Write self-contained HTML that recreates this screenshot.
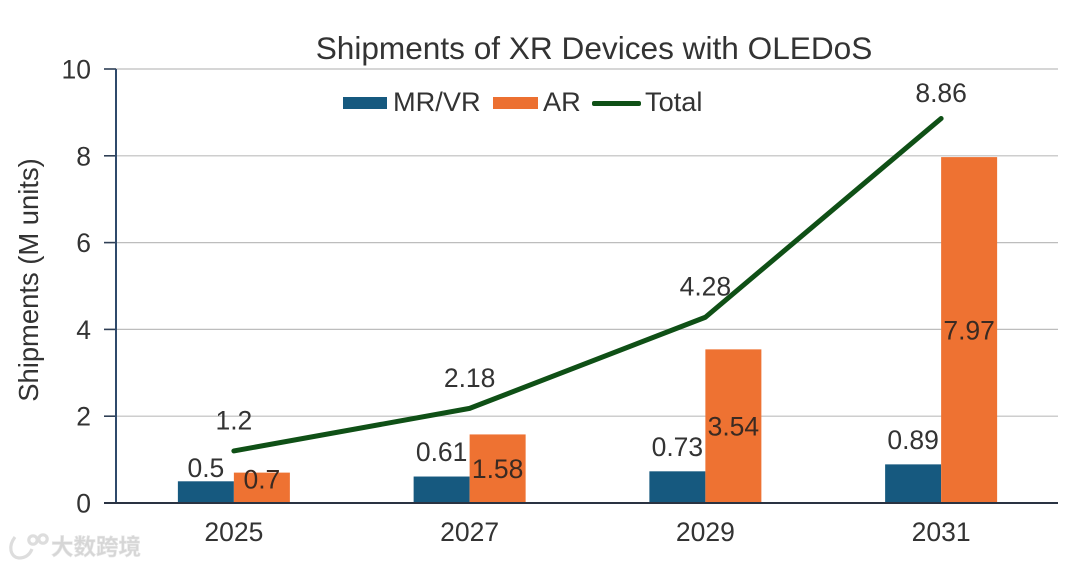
<!DOCTYPE html>
<html lang="en">
<head>
<meta charset="utf-8">
<title>Shipments of XR Devices with OLEDoS</title>
<style>
html,body{margin:0;padding:0;background:#fff;}
#chart{display:block;width:1080px;height:567px;font-family:"Liberation Sans",Arial,sans-serif;}
</style>
</head>
<body>
<svg id="chart" xmlns="http://www.w3.org/2000/svg" width="1080" height="567" viewBox="0 0 1080 567">
  <rect width="1080" height="567" fill="#ffffff"/>
  <g id="grid"></g>
  <g id="bars"></g>
  <g id="axes"></g>
  <g id="line"></g>
  <g id="labels"></g>
  <text x="594" y="59" text-anchor="middle" font-size="31.6" fill="#333">Shipments of XR Devices with OLEDoS</text>
  <text transform="translate(38,280) rotate(-90)" text-anchor="middle" font-size="27.4" fill="#333">Shipments (M units)</text>
  <g>
    <g>
      <rect x="343" y="97" width="44" height="12" fill="#16597f"/>
      <text x="393" y="111" font-size="27.2" fill="#333">MR/VR</text>
    </g>
    <g>
      <rect x="493" y="97" width="45" height="12" fill="#ec7031"/>
      <text x="543" y="111" font-size="27.2" fill="#333">AR</text>
    </g>
    <g>
      <rect x="592" y="101" width="49" height="5" rx="2" fill="#0f5016"/>
      <text x="645" y="111" font-size="27.2" fill="#333">Total</text>
    </g>
  </g>
  <g opacity="0.95">
    <g fill="none" stroke="#dcdcdc" stroke-width="3.2">
      <path d="M15 537 C8 546 10 557 19 558 C26 558 30 554 32 549"/>
      <circle cx="33" cy="540" r="4.2"/>
      <circle cx="43" cy="539" r="4.2"/>
    </g>
    <text x="51" y="555" font-size="22.5" font-family="'Liberation Sans','Noto Sans CJK SC',sans-serif" font-weight="700" fill="#d4d4d4" stroke="#e6e6e6" stroke-width="0.6">大数跨境</text>
  </g>
</svg>
<script>
const categories = ["2025", "2027", "2029", "2031"];
const mrVr = [0.5, 0.61, 0.73, 0.89];
const ar = [0.7, 1.58, 3.54, 7.97];
const total = [1.2, 2.18, 4.28, 8.86];
const yTicks = [0, 2, 4, 6, 8, 10];

const NS = "http://www.w3.org/2000/svg";
const plotLeft = 116, plotRight = 1059, plotTop = 69, plotBottom = 503, yMax = 10;
const barWidth = 56;
const y = v => plotBottom - (v / yMax) * (plotBottom - plotTop);
const x = i => plotLeft + (plotRight - plotLeft) * (i + 0.5) / categories.length;

function make(tag, attrs, parent, content) {
  const el = document.createElementNS(NS, tag);
  for (const k in attrs) el.setAttribute(k, attrs[k]);
  if (content !== undefined) el.textContent = content;
  parent.appendChild(el);
  return el;
}
const grid = document.getElementById("grid");
const axes = document.getElementById("axes");
const bars = document.getElementById("bars");
const lineG = document.getElementById("line");
const labels = document.getElementById("labels");

function label(text, cx, cy, name, fill) {
  const t = make("text", {x: cx, y: cy + 9.5, "text-anchor": "middle", "font-size": 26.5, fill: fill}, labels, text);
  
  
}

yTicks.forEach(v => {
  if (v > 0) {
    const g = make("line", {x1: plotLeft, x2: plotRight - 1, y1: y(v), y2: y(v), stroke: "#bdbdbd", "stroke-width": 1.2}, grid);
    
    
  }
  const tick = make("line", {x1: 104, x2: plotLeft, y1: y(v), y2: y(v), stroke: "#2f3f55", "stroke-width": 1.6}, axes);
  
  
  const lab = make("text", {x: 91, y: y(v) + 9.5, "text-anchor": "end", "font-size": 26.5, fill: "#333"}, axes, String(v));
  
  
});

const yAxis = make("line", {x1: plotLeft, x2: plotLeft, y1: plotTop, y2: plotBottom, stroke: "#2f4a6b", "stroke-width": 2}, axes);



categories.forEach((c, i) => {
  const cx = x(i);
  const b1 = make("rect", {x: cx - barWidth, y: y(mrVr[i]), width: barWidth, height: plotBottom - y(mrVr[i]), fill: "#16597f"}, bars);
  
  
  const b2 = make("rect", {x: cx, y: y(ar[i]), width: barWidth, height: plotBottom - y(ar[i]), fill: "#ee7232"}, bars);
  
  
  const lab = make("text", {x: cx, y: 541, "text-anchor": "middle", "font-size": 26.5, fill: "#333"}, axes, c);
  
  

  const mrY = y(mrVr[i]) - (i === 0 ? 14 : 25);
  label(String(mrVr[i]), cx - 28, mrY, 'label-mr-vr-' + c, "#333");
  const arY = Math.min((y(ar[i]) + plotBottom) / 2, plotBottom - 24);
  label(String(ar[i]), cx + 28, arY, 'label-ar-' + c, "#3a2a22");
  const totY = Math.max(y(total[i]) - 31, y(total[i]) < 130 ? y(total[i]) - 26 : 0);
  label(String(total[i]), cx, totY, 'label-total-' + c, "#333");
});

const xAxis = make("line", {x1: 104, x2: plotRight - 1, y1: plotBottom, y2: plotBottom, stroke: "#2a3342", "stroke-width": 2}, axes);



const pts = total.map((v, i) => x(i) + "," + y(v)).join(" ");
const poly = make("polyline", {points: pts, fill: "none", stroke: "#0f5016", "stroke-width": 5, "stroke-linecap": "round", "stroke-linejoin": "round"}, lineG);


</script>
</body>
</html>
